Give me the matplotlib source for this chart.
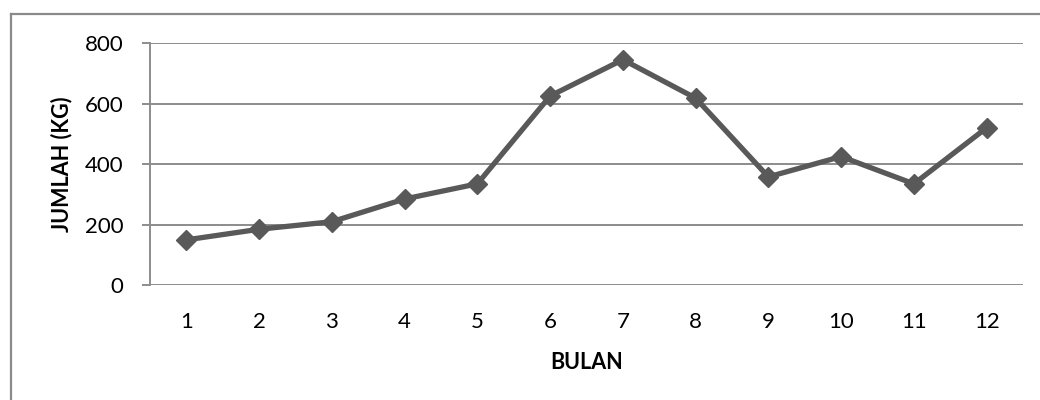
import matplotlib
matplotlib.use('Agg')
import matplotlib.pyplot as plt
from matplotlib.lines import Line2D

# Monthly totals (kg)
bulan = [1, 2, 3, 4, 5, 6, 7, 8, 9, 10, 11, 12]
jumlah = [150, 185, 210, 285, 335, 625, 745, 618, 358, 425, 335, 520]
y_ticks = [0, 200, 400, 600, 800]

plt.rcParams['font.family'] = ['Lato', 'DejaVu Sans']

fig = plt.figure(figsize=(10.4, 4.0), dpi=100)
ax = fig.add_axes([150 / 1040, 1 - 285.3 / 400, 873 / 1040, 242.3 / 400])

grid_color = '#8c8c8c'
line_color = '#595959'

ax.plot(bulan, jumlah, color=line_color, linewidth=3.8, marker='D',
        markersize=10.5, markerfacecolor=line_color, markeredgecolor=line_color,
        zorder=3, clip_on=False)

ax.set_xlim(0.5, 12.5)
ax.set_ylim(0, 800)
ax.set_xticks(bulan)
ax.set_xticklabels([str(b) for b in bulan])
ax.set_yticks(y_ticks)
ax.set_yticklabels([str(v) for v in y_ticks])

# horizontal gridlines
for v in y_ticks:
    ax.axhline(v, color=grid_color, linewidth=1.4, zorder=1)

for side in ['top', 'right', 'bottom']:
    ax.spines[side].set_visible(False)
ax.spines['left'].set_color(grid_color)
ax.spines['left'].set_linewidth(1.4)

ax.tick_params(axis='y', length=6, width=1.4, color=grid_color, pad=13,
               labelsize=16, labelcolor='black')
ax.tick_params(axis='x', length=0, pad=19, labelsize=16, labelcolor='black')

ax.set_xlabel('BULAN', fontsize=15.5, fontweight='bold')
ax.xaxis.set_label_coords(0.5, -0.317)
ax.xaxis.label.set_va('center')
ax.set_ylabel('JUMLAH (KG)', fontsize=15.5, fontweight='bold')
ax.yaxis.set_label_coords(-0.101, 0.5)
ax.yaxis.label.set_va('center')

# chart frame (top and left edges visible)
fig.add_artist(Line2D([11 / 1040, 1.0], [1 - 14 / 400, 1 - 14 / 400],
                      transform=fig.transFigure, color='#8a8a8a', linewidth=1.6))
fig.add_artist(Line2D([11 / 1040, 11 / 1040], [0.0, 1 - 14 / 400],
                      transform=fig.transFigure, color='#8a8a8a', linewidth=1.6))

fig.savefig('out.png', dpi=100, facecolor='white')
